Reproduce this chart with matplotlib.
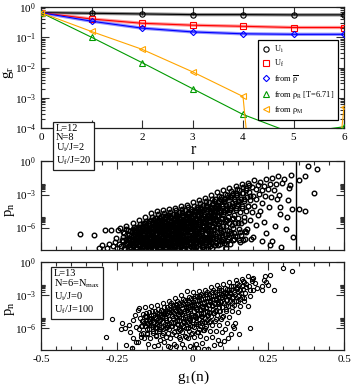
import matplotlib
matplotlib.use('Agg')
import matplotlib.pyplot as plt
from matplotlib.lines import Line2D
from matplotlib.ticker import FixedLocator, NullFormatter, MultipleLocator, NullLocator

plt.rcParams['font.family'] = ['Liberation Serif', 'DejaVu Serif']
plt.rcParams['mathtext.fontset'] = 'stix'
plt.rcParams['mathtext.default'] = 'regular'

# ---------------- top panel data ----------------
r_vals = [0, 1, 2, 3, 4, 5, 6]
r_ticklabels = ['0', '', '2', '3', '4', '5', '6']
g_Ui = [0.65, 0.62, 0.59, 0.56, 0.56, 0.55, 0.55]
g_Uf = [0.65, 0.40, 0.29, 0.25, 0.23, 0.21, 0.21]
g_rhobar = [0.65, 0.34, 0.20, 0.15, 0.13, 0.125, 0.125]
g_rhoR = [0.65, 0.10, 0.0145, 0.0020, 2.8e-4, 6.5e-5, 1.1e-4]
g_rhoM = [0.65, 0.155, 0.040, 0.0072, 1.1e-3, 1e-20, 5e-4]
legend_labels = ['U$_i$', 'U$_f$', r'from $\overline{\rho}$',
                 r'from $\rho_R$ [T=6.71]', r'from $\rho_M$']

# ---------------- middle panel data (g1, log10 p) ----------------
mid_g1 = [
    -0.370, -0.324, -0.310, -0.300, -0.290, -0.277, -0.282, -0.270, -0.262, -0.255, -0.245, -0.248, -0.243, -0.251,
    -0.238, -0.225, -0.232, -0.221, -0.229, -0.236, -0.224, -0.231,
    -0.218, -0.205, -0.212, -0.201, -0.209, -0.216, -0.204, -0.211, -0.219, -0.207, -0.214, -0.202,
    -0.198, -0.185, -0.192, -0.181, -0.189, -0.196, -0.184, -0.191, -0.199, -0.187, -0.194, -0.182, -0.195, -0.188, -0.183, -0.197,
    -0.178, -0.165, -0.172, -0.161, -0.169, -0.176, -0.164, -0.171, -0.179, -0.167, -0.174, -0.162, -0.175, -0.168, -0.163, -0.177, -0.166, -0.173, -0.170, -0.160,
    -0.158, -0.145, -0.152, -0.141, -0.149, -0.156, -0.144, -0.151, -0.159, -0.147, -0.154, -0.142, -0.155, -0.148, -0.143, -0.157, -0.146, -0.153, -0.150, -0.140, -0.152, -0.146,
    -0.138, -0.125, -0.132, -0.121, -0.129, -0.136, -0.124, -0.131, -0.139, -0.127, -0.134, -0.122, -0.135, -0.128, -0.123, -0.137, -0.126, -0.133, -0.130, -0.120, -0.132, -0.126, -0.137, -0.123,
    -0.118, -0.105, -0.112, -0.101, -0.109, -0.116, -0.104, -0.111, -0.119, -0.107, -0.114, -0.102, -0.115, -0.108, -0.103, -0.117, -0.106, -0.113, -0.110, -0.100, -0.112, -0.106, -0.117, -0.103, -0.109,
    -0.098, -0.085, -0.092, -0.081, -0.089, -0.096, -0.084, -0.091, -0.099, -0.087, -0.094, -0.082, -0.095, -0.088, -0.083, -0.097, -0.086, -0.093, -0.090, -0.080, -0.092, -0.086, -0.097, -0.083, -0.089,
    -0.078, -0.065, -0.072, -0.061, -0.069, -0.076, -0.064, -0.071, -0.079, -0.067, -0.074, -0.062, -0.075, -0.068, -0.063, -0.077, -0.066, -0.073, -0.070, -0.060, -0.072, -0.066, -0.077, -0.063, -0.069,
    -0.058, -0.045, -0.052, -0.041, -0.049, -0.056, -0.044, -0.051, -0.059, -0.047, -0.054, -0.042, -0.055, -0.048, -0.043, -0.057, -0.046, -0.053, -0.050, -0.040, -0.052, -0.046, -0.057, -0.043, -0.049,
    -0.038, -0.025, -0.032, -0.021, -0.029, -0.036, -0.024, -0.031, -0.039, -0.027, -0.034, -0.022, -0.035, -0.028, -0.023, -0.037, -0.026, -0.033, -0.030, -0.020, -0.032, -0.026, -0.037, -0.023, -0.029,
    -0.018, -0.005, -0.012, -0.001, -0.009, -0.016, -0.004, -0.011, -0.019, -0.007, -0.014, -0.002, -0.015, -0.008, -0.003, -0.017, -0.006, -0.013, -0.010, 0.000, -0.012, -0.006, -0.017, -0.003, -0.009,
    0.002, 0.015, 0.008, 0.019, 0.011, 0.004, 0.016, 0.009, 0.001, 0.013, 0.006, 0.018, 0.005, 0.012, 0.017, 0.003, 0.014, 0.007, 0.010, 0.020, 0.008, 0.014, 0.003, 0.017, 0.011,
    0.022, 0.035, 0.028, 0.039, 0.031, 0.024, 0.036, 0.029, 0.021, 0.033, 0.026, 0.038, 0.025, 0.032, 0.037, 0.023, 0.034, 0.027, 0.030, 0.040, 0.028, 0.034, 0.023, 0.037, 0.031,
    0.042, 0.055, 0.048, 0.059, 0.051, 0.044, 0.056, 0.049, 0.041, 0.053, 0.046, 0.058, 0.045, 0.052, 0.057, 0.043, 0.054, 0.047, 0.050, 0.060, 0.048, 0.054, 0.043, 0.057,
    0.062, 0.075, 0.068, 0.079, 0.071, 0.064, 0.076, 0.069, 0.061, 0.073, 0.066, 0.078, 0.065, 0.072, 0.077, 0.063, 0.074, 0.067, 0.070, 0.080, 0.068, 0.074,
    0.082, 0.095, 0.088, 0.099, 0.091, 0.084, 0.096, 0.089, 0.081, 0.093, 0.086, 0.098, 0.085, 0.092, 0.097, 0.083, 0.094, 0.087, 0.090, 0.100,
    0.102, 0.115, 0.108, 0.119, 0.111, 0.104, 0.116, 0.109, 0.101, 0.113, 0.106, 0.118, 0.105, 0.112, 0.117, 0.103, 0.114, 0.107,
    0.122, 0.135, 0.128, 0.139, 0.131, 0.124, 0.136, 0.129, 0.121, 0.133, 0.126, 0.138, 0.125, 0.132, 0.137, 0.123,
    0.142, 0.155, 0.148, 0.159, 0.151, 0.144, 0.156, 0.149, 0.141, 0.153, 0.146, 0.158, 0.145, 0.152,
    0.162, 0.175, 0.168, 0.179, 0.171, 0.164, 0.176, 0.169, 0.161, 0.173, 0.166, 0.178,
    0.182, 0.195, 0.188, 0.199, 0.191, 0.184, 0.196, 0.189, 0.181, 0.193,
    0.202, 0.215, 0.208, 0.219, 0.211, 0.204, 0.216, 0.209, 0.201,
    0.222, 0.235, 0.228, 0.239, 0.231, 0.224, 0.236, 0.229,
    0.242, 0.255, 0.248, 0.259, 0.251, 0.244, 0.256,
    0.262, 0.275, 0.268, 0.279, 0.271, 0.264,
    0.282, 0.295, 0.288, 0.289, 0.291, 0.284,
    0.302, 0.315, 0.308, 0.319, 0.311,
    0.326, 0.330, 0.322, 0.333,
    0.380, 0.410, 0.370, 0.350, 0.400, 0.370, 0.350,
    # second, interleaved set of points
    -0.214, -0.223, -0.211, -0.227, -0.218, -0.229,
    -0.194, -0.203, -0.191, -0.207, -0.198, -0.209, -0.196, -0.201, -0.192, -0.205,
    -0.174, -0.183, -0.171, -0.187, -0.178, -0.189, -0.176, -0.181, -0.172, -0.185, -0.180, -0.188, -0.175, -0.182,
    -0.154, -0.163, -0.151, -0.167, -0.158, -0.169, -0.156, -0.161, -0.152, -0.165, -0.160, -0.168, -0.155, -0.162, -0.153, -0.166,
    -0.134, -0.143, -0.131, -0.147, -0.138, -0.149, -0.136, -0.141, -0.132, -0.145, -0.140, -0.148, -0.135, -0.142, -0.133, -0.146, -0.137, -0.144,
    -0.114, -0.123, -0.111, -0.127, -0.118, -0.129, -0.116, -0.121, -0.112, -0.125, -0.120, -0.128, -0.115, -0.122, -0.113, -0.126, -0.117, -0.124, -0.119, -0.130,
    -0.094, -0.103, -0.091, -0.107, -0.098, -0.109, -0.096, -0.101, -0.092, -0.105, -0.100, -0.108, -0.095, -0.102, -0.093, -0.106, -0.097, -0.104, -0.099, -0.110,
    -0.074, -0.083, -0.071, -0.087, -0.078, -0.089, -0.076, -0.081, -0.072, -0.085, -0.080, -0.088, -0.075, -0.082, -0.073, -0.086, -0.077, -0.084, -0.079, -0.090,
    -0.054, -0.063, -0.051, -0.067, -0.058, -0.069, -0.056, -0.061, -0.052, -0.065, -0.060, -0.068, -0.055, -0.062, -0.053, -0.066, -0.057, -0.064, -0.059, -0.070,
    -0.034, -0.043, -0.031, -0.047, -0.038, -0.049, -0.036, -0.041, -0.032, -0.045, -0.040, -0.048, -0.035, -0.042, -0.033, -0.046, -0.037, -0.044, -0.039, -0.050,
    -0.014, -0.023, -0.011, -0.027, -0.018, -0.029, -0.016, -0.021, -0.012, -0.025, -0.020, -0.028, -0.015, -0.022, -0.013, -0.026, -0.017, -0.024, -0.019, -0.030,
    0.006, -0.003, 0.009, -0.007, 0.002, -0.009, 0.004, -0.001, 0.008, -0.005, 0.000, -0.008, 0.005, -0.002, 0.007, -0.006, 0.003, -0.004, 0.001, -0.010,
    0.026, 0.017, 0.029, 0.013, 0.022, 0.011, 0.024, 0.019, 0.028, 0.015, 0.020, 0.012, 0.025, 0.018, 0.027, 0.014, 0.023, 0.016, 0.021, 0.010,
    0.046, 0.037, 0.049, 0.033, 0.042, 0.031, 0.044, 0.039, 0.048, 0.035, 0.040, 0.032, 0.045, 0.038, 0.047, 0.034, 0.043, 0.036, 0.041, 0.030,
    0.066, 0.057, 0.069, 0.053, 0.062, 0.051, 0.064, 0.059, 0.068, 0.055, 0.060, 0.052, 0.065, 0.058, 0.067, 0.054, 0.063, 0.056,
    0.086, 0.077, 0.089, 0.073, 0.082, 0.071, 0.084, 0.079, 0.088, 0.075, 0.080, 0.072, 0.085, 0.078, 0.087, 0.074,
    0.106, 0.097, 0.109, 0.093, 0.102, 0.091, 0.104, 0.099, 0.108, 0.095, 0.100, 0.092, 0.105, 0.098,
    0.126, 0.117, 0.129, 0.113, 0.122, 0.111, 0.124, 0.119, 0.128, 0.115, 0.120, 0.112,
    0.146, 0.137, 0.149, 0.133, 0.142, 0.131, 0.144, 0.139, 0.148, 0.135,
    0.166, 0.157, 0.169, 0.153, 0.162, 0.151, 0.164, 0.159,
    0.186, 0.177, 0.189, 0.173, 0.182, 0.171,
]
mid_logp = [
    -6.60, -6.70, -7.90, -7.60, -6.20, -7.50, -7.85, -6.20, -7.70, -7.30, -6.20, -7.90, -7.50, -6.95,
    -6.05, -6.52, -7.13, -7.41, -6.84, -7.69, -7.92, -7.27,
    -5.82, -6.31, -6.93, -7.22, -6.58, -7.51, -7.83, -7.04, -6.12, -7.63, -7.36, -6.77,
    -5.61, -6.03, -6.44, -6.92, -7.28, -7.71, -7.93, -6.63, -7.12, -7.48, -6.21, -6.81, -7.39, -7.86, -7.01, -7.57,
    -5.32, -5.71, -6.13, -6.52, -6.88, -7.31, -7.68, -7.91, -5.94, -6.33, -6.72, -7.09, -7.47, -7.80, -6.02, -6.61, -7.19, -7.58, -6.79, -7.42,
    -5.03, -5.42, -5.81, -6.22, -6.63, -7.02, -7.38, -7.79, -5.58, -6.01, -6.43, -6.84, -7.21, -7.62, -7.93, -5.92, -6.52, -7.11, -7.49, -6.91, -7.71, -6.31,
    -4.71, -5.12, -5.52, -5.91, -6.32, -6.71, -7.08, -7.52, -7.91, -5.33, -5.72, -6.12, -6.51, -6.92, -7.29, -7.71, -5.81, -6.42, -7.01, -7.61, -6.03, -6.82, -7.42, -7.87,
    -4.52, -4.93, -5.31, -5.72, -6.11, -6.52, -6.91, -7.32, -7.71, -5.13, -5.52, -5.93, -6.31, -6.72, -7.11, -7.52, -7.92, -5.62, -6.21, -6.82, -7.41, -6.02, -6.61, -7.22, -7.81,
    -4.41, -4.82, -5.22, -5.61, -6.02, -6.41, -6.82, -7.21, -7.62, -5.02, -5.42, -5.82, -6.22, -6.61, -7.02, -7.42, -7.83, -5.52, -6.12, -6.71, -7.31, -7.91, -6.32, -6.91, -7.51,
    -4.32, -4.73, -5.13, -5.52, -5.93, -6.33, -6.72, -7.13, -7.53, -7.93, -4.93, -5.33, -5.73, -6.13, -6.53, -6.93, -7.33, -7.73, -5.43, -6.03, -6.63, -7.23, -7.83, -6.23, -6.83,
    -4.21, -4.62, -5.02, -5.41, -5.82, -6.22, -6.62, -7.02, -7.42, -7.82, -4.82, -5.22, -5.62, -6.02, -6.42, -6.82, -7.22, -7.62, -5.32, -5.92, -6.52, -7.12, -7.72, -6.12, -6.72,
    -4.02, -4.43, -4.83, -5.23, -5.63, -6.03, -6.43, -6.83, -7.23, -7.63, -4.63, -5.03, -5.43, -5.83, -6.23, -6.63, -7.03, -7.43, -7.87, -5.13, -5.73, -6.33, -6.93, -7.53, -7.95,
    -3.91, -4.32, -4.72, -5.12, -5.52, -5.92, -6.32, -6.72, -7.12, -7.52, -7.92, -4.52, -4.92, -5.32, -5.72, -6.12, -6.52, -6.92, -7.32, -7.72, -5.02, -5.62, -6.22, -6.82, -7.42,
    -3.72, -4.13, -4.53, -4.93, -5.33, -5.73, -6.13, -6.53, -6.93, -7.33, -7.73, -4.33, -4.73, -5.13, -5.53, -5.93, -6.33, -6.73, -7.13, -7.53, -7.93, -4.83, -5.43, -6.03, -6.63,
    -3.52, -3.93, -4.33, -4.73, -5.13, -5.53, -5.93, -6.33, -6.73, -7.13, -7.53, -7.93, -4.13, -4.53, -4.93, -5.33, -5.73, -6.13, -6.53, -6.93, -7.33, -7.73, -4.63, -5.83, -7.03,
    -3.31, -3.72, -4.12, -4.52, -4.92, -5.32, -5.72, -6.12, -6.52, -6.92, -7.32, -7.72, -3.92, -4.32, -4.72, -5.12, -5.52, -5.92, -6.32, -6.72, -7.12, -7.52, -7.92, -5.02,
    -3.02, -3.43, -3.83, -4.23, -4.63, -5.03, -5.43, -5.83, -6.23, -6.63, -7.03, -7.43, -7.83, -3.63, -4.03, -4.43, -4.83, -5.23, -5.63, -6.03, -6.83, -7.63,
    -2.81, -3.22, -3.62, -4.02, -4.42, -4.82, -5.22, -5.62, -6.02, -6.42, -6.82, -7.22, -7.62, -3.42, -3.82, -4.22, -4.62, -5.42, -6.22, -7.02,
    -2.62, -3.03, -3.43, -3.83, -4.23, -4.63, -5.03, -5.43, -5.83, -6.23, -6.63, -7.03, -7.43, -7.83, -3.23, -3.63, -4.43, -5.23,
    -2.41, -2.82, -3.22, -3.62, -4.02, -4.42, -4.82, -5.22, -5.62, -6.02, -6.52, -7.02, -7.52, -3.02, -3.42, -4.22,
    -2.22, -2.63, -3.03, -3.43, -3.83, -4.23, -4.63, -5.13, -5.63, -6.13, -6.73, -7.33, -2.83, -3.63,
    -2.02, -2.43, -2.83, -3.23, -3.63, -4.03, -4.53, -5.03, -5.63, -6.33, -7.13, -2.63,
    -1.92, -2.33, -2.73, -3.13, -3.53, -4.03, -4.63, -5.33, -6.13, -7.03,
    -1.72, -2.13, -2.53, -2.93, -3.43, -4.03, -4.83, -5.73, -6.83,
    -1.82, -2.23, -2.63, -3.13, -3.73, -4.53, -5.53, -7.23,
    -1.62, -2.03, -2.53, -3.23, -4.13, -6.53, -7.63,
    -1.52, -2.03, -2.63, -3.43, -5.83, -7.23,
    -1.36, -1.93, -4.13, -4.73, -7.73, -3.03,
    -1.62, -3.53, -6.13, -2.43, -5.03,
    -1.27, -4.33, -2.13, -6.83,
    -0.40, -0.70, -1.30, -1.70, -2.90, -4.50, -4.30,
    # second, interleaved set of points
    -6.22, -7.55, -6.71, -7.88, -7.05, -6.45,
    -5.92, -7.42, -6.35, -7.81, -6.78, -7.15, -6.12, -7.63, -6.56, -6.97,
    -5.68, -7.35, -6.22, -7.76, -6.58, -7.05, -5.91, -7.55, -6.41, -6.87, -7.22, -7.92, -6.05, -6.73,
    -5.38, -7.28, -5.95, -7.71, -6.35, -6.92, -5.62, -7.51, -6.15, -6.72, -7.12, -7.89, -5.82, -6.55, -7.38, -6.02,
    -5.05, -7.22, -5.68, -7.65, -6.12, -6.83, -5.35, -7.42, -5.91, -6.55, -7.05, -7.86, -5.52, -6.33, -7.31, -6.01, -6.68, -7.55,
    -4.81, -7.18, -5.42, -7.62, -5.95, -6.75, -5.15, -7.38, -5.71, -6.48, -6.98, -7.83, -5.28, -6.22, -7.25, -5.85, -6.62, -7.51, -6.05, -7.93,
    -4.65, -7.12, -5.25, -7.58, -5.82, -6.68, -4.98, -7.33, -5.58, -6.38, -6.92, -7.81, -5.12, -6.12, -7.21, -5.71, -6.55, -7.47, -5.95, -7.91,
    -4.55, -7.08, -5.18, -7.55, -5.75, -6.62, -4.88, -7.28, -5.48, -6.31, -6.85, -7.78, -5.05, -6.05, -7.17, -5.62, -6.48, -7.43, -5.88, -7.90,
    -4.45, -7.05, -5.11, -7.52, -5.68, -6.57, -4.78, -7.25, -5.41, -6.25, -6.80, -7.75, -4.97, -5.98, -7.13, -5.55, -6.41, -7.40, -5.81, -7.88,
    -4.30, -7.02, -5.02, -7.50, -5.60, -6.52, -4.66, -7.22, -5.32, -6.18, -6.75, -7.72, -4.86, -5.90, -7.10, -5.47, -6.35, -7.37, -5.75, -7.86,
    -4.15, -6.98, -4.92, -7.48, -5.52, -6.47, -4.55, -7.19, -5.24, -6.12, -6.70, -7.70, -4.75, -5.83, -7.06, -5.38, -6.28, -7.34, -5.68, -7.84,
    -4.00, -6.95, -4.82, -7.45, -5.45, -6.42, -4.42, -7.16, -5.15, -6.05, -6.65, -7.68, -4.63, -5.75, -7.02, -5.30, -6.21, -7.31, -5.60, -7.82,
    -3.80, -6.90, -4.68, -7.42, -5.35, -6.36, -4.25, -7.12, -5.05, -5.97, -6.60, -7.65, -4.48, -5.66, -6.98, -5.20, -6.13, -7.28, -5.50, -7.80,
    -3.60, -6.85, -4.52, -7.38, -5.25, -6.30, -4.08, -7.08, -4.95, -5.88, -6.55, -7.62, -4.32, -5.57, -6.93, -5.10, -6.05, -7.25, -5.40, -7.78,
    -3.38, -6.80, -4.35, -7.35, -5.12, -6.22, -3.88, -7.02, -4.82, -5.78, -6.50, -7.60, -4.12, -5.45, -6.88, -4.98, -5.95, -7.22,
    -3.12, -6.75, -4.15, -7.30, -4.95, -6.12, -3.65, -6.95, -4.62, -5.62, -6.42, -7.56, -3.92, -5.30, -7.15, -4.40,
    -2.92, -6.68, -3.98, -7.25, -4.78, -6.02, -3.45, -6.88, -4.45, -5.48, -6.35, -7.52, -3.72, -5.15,
    -2.72, -6.60, -3.78, -7.20, -4.58, -5.90, -3.25, -6.82, -4.25, -5.32, -6.28, -7.48,
    -2.52, -6.52, -3.58, -7.15, -4.40, -5.75, -3.05, -6.75, -4.05, -5.15,
    -2.32, -6.45, -3.38, -7.10, -4.20, -5.60, -2.85, -6.70,
    -2.12, -6.38, -3.18, -7.05, -4.00, -5.45,
]
mid_cut_g1 = 0.34

# ---------------- bottom panel data (g1, log10 p) ----------------
bot_g1 = [
    -0.285, -0.266, -0.232, -0.235, -0.224, -0.218, -0.199, -0.197, -0.180, -0.190, -0.210, -0.205, -0.195, -0.185, -0.188, -0.200,
    -0.178, -0.165, -0.172, -0.161, -0.169, -0.176, -0.164, -0.171, -0.179, -0.167,
    -0.158, -0.145, -0.152, -0.141, -0.149, -0.156, -0.144, -0.151, -0.159, -0.147, -0.154, -0.142,
    -0.138, -0.125, -0.132, -0.121, -0.129, -0.136, -0.124, -0.131, -0.139, -0.127, -0.134, -0.122,
    -0.118, -0.105, -0.112, -0.101, -0.109, -0.116, -0.104, -0.111, -0.119, -0.107, -0.114, -0.102, -0.115, -0.108,
    -0.098, -0.085, -0.092, -0.081, -0.089, -0.096, -0.084, -0.091, -0.099, -0.087, -0.094, -0.082, -0.095, -0.088, -0.083,
    -0.078, -0.065, -0.072, -0.061, -0.069, -0.076, -0.064, -0.071, -0.079, -0.067, -0.074, -0.062, -0.075, -0.068, -0.063, -0.077,
    -0.058, -0.045, -0.052, -0.041, -0.049, -0.056, -0.044, -0.051, -0.059, -0.047, -0.054, -0.042, -0.055, -0.048, -0.043, -0.057, -0.046, -0.053,
    -0.038, -0.025, -0.032, -0.021, -0.029, -0.036, -0.024, -0.031, -0.039, -0.027, -0.034, -0.022, -0.035, -0.028, -0.023, -0.037, -0.026, -0.033,
    -0.018, -0.005, -0.012, -0.001, -0.009, -0.016, -0.004, -0.011, -0.019, -0.007, -0.014, -0.002, -0.015, -0.008, -0.003, -0.017, -0.006, -0.013, -0.010, 0.000,
    0.002, 0.015, 0.008, 0.019, 0.011, 0.004, 0.016, 0.009, 0.001, 0.013, 0.006, 0.018, 0.005, 0.012, 0.017, 0.003, 0.014, 0.007, 0.010, 0.020,
    0.022, 0.035, 0.028, 0.039, 0.031, 0.024, 0.036, 0.029, 0.021, 0.033, 0.026, 0.038, 0.025, 0.032, 0.037, 0.023, 0.034, 0.027, 0.030, 0.040,
    0.042, 0.055, 0.048, 0.059, 0.051, 0.044, 0.056, 0.049, 0.041, 0.053, 0.046, 0.058, 0.045, 0.052, 0.057, 0.043, 0.054, 0.047,
    0.062, 0.075, 0.068, 0.079, 0.071, 0.064, 0.076, 0.069, 0.061, 0.073, 0.066, 0.078, 0.065, 0.072, 0.077, 0.063, 0.074,
    0.082, 0.095, 0.088, 0.099, 0.091, 0.084, 0.096, 0.089, 0.081, 0.093, 0.086, 0.098, 0.085, 0.092, 0.097, 0.083,
    0.102, 0.115, 0.108, 0.119, 0.111, 0.104, 0.116, 0.109, 0.101, 0.113, 0.106, 0.118, 0.105, 0.112,
    0.122, 0.135, 0.128, 0.139, 0.131, 0.124, 0.136, 0.129, 0.121, 0.133, 0.126, 0.138, 0.125,
    0.142, 0.155, 0.148, 0.159, 0.151, 0.144, 0.156, 0.149, 0.141, 0.153, 0.146, 0.158,
    0.162, 0.175, 0.168, 0.173, 0.171, 0.164, 0.176, 0.169,
    0.183, 0.195, 0.188, 0.190, 0.191, 0.184, 0.196, 0.190,
    0.200, 0.206, 0.212, 0.200,
    0.230, 0.230, 0.243, 0.240, 0.235,
    0.255, 0.250, 0.270, 0.300, 0.328,
    # second, interleaved set of points
    -0.154, -0.163, -0.151, -0.167, -0.158, -0.169,
    -0.134, -0.143, -0.131, -0.147, -0.138, -0.149, -0.136,
    -0.114, -0.123, -0.111, -0.127, -0.118, -0.129, -0.116, -0.121,
    -0.094, -0.103, -0.091, -0.107, -0.098, -0.109, -0.096, -0.101,
    -0.074, -0.083, -0.071, -0.087, -0.078, -0.089, -0.076, -0.081, -0.072,
    -0.054, -0.063, -0.051, -0.067, -0.058, -0.069, -0.056, -0.061, -0.052,
    -0.034, -0.043, -0.031, -0.047, -0.038, -0.049, -0.036, -0.041, -0.032, -0.045,
    -0.014, -0.023, -0.011, -0.027, -0.018, -0.029, -0.016, -0.021, -0.012, -0.025,
    0.006, -0.003, 0.009, -0.007, 0.002, -0.009, 0.004, -0.001, 0.008, -0.005,
    0.026, 0.017, 0.029, 0.013, 0.022, 0.011, 0.024, 0.019, 0.028, 0.015,
    0.046, 0.037, 0.049, 0.033, 0.042, 0.031, 0.044, 0.039, 0.048, 0.035,
    0.066, 0.057, 0.069, 0.053, 0.062, 0.051, 0.064, 0.059, 0.068,
    0.086, 0.077, 0.089, 0.073, 0.082, 0.071, 0.084, 0.079, 0.088,
    0.106, 0.097, 0.109, 0.093, 0.102, 0.091, 0.104, 0.099,
    0.126, 0.117, 0.129, 0.113, 0.122, 0.111, 0.124,
    0.146, 0.137, 0.149, 0.133, 0.142, 0.131,
    0.166, 0.157, 0.169, 0.153, 0.162,
]
bot_logp = [
    -6.80, -5.20, -5.50, -6.10, -6.00, -7.50, -7.80, -5.30, -4.40, -4.80, -5.70, -6.40, -6.90, -5.90, -7.30, -7.85,
    -4.22, -4.71, -5.13, -5.52, -5.83, -6.12, -6.43, -6.81, -7.25, -5.34,
    -4.12, -4.53, -4.91, -5.22, -5.51, -5.82, -6.13, -6.52, -6.93, -7.41, -5.03, -5.71,
    -4.02, -4.41, -4.83, -5.12, -5.43, -5.71, -6.03, -6.42, -6.91, -7.61, -5.28, -5.92,
    -3.91, -4.32, -4.71, -5.03, -5.33, -5.61, -5.92, -6.23, -6.62, -7.12, -7.52, -4.92, -5.48, -6.05,
    -3.72, -4.12, -4.51, -4.83, -5.12, -5.41, -5.72, -6.03, -6.41, -6.82, -7.31, -7.62, -4.62, -5.23, -5.88,
    -3.52, -3.93, -4.32, -4.63, -4.93, -5.22, -5.53, -5.82, -6.13, -6.52, -6.93, -7.42, -7.72, -4.43, -5.08, -5.68,
    -3.31, -3.72, -4.11, -4.42, -4.72, -5.01, -5.32, -5.61, -5.92, -6.23, -6.62, -7.03, -7.61, -4.27, -4.87, -5.47, -6.07, -3.92,
    -3.02, -3.43, -3.82, -4.13, -4.43, -4.72, -5.03, -5.32, -5.63, -5.92, -6.33, -6.82, -7.41, -7.83, -3.98, -4.58, -5.18, -5.78,
    -2.62, -3.23, -3.62, -3.93, -4.23, -4.52, -4.83, -5.12, -5.43, -5.72, -6.03, -6.42, -6.93, -7.62, -3.78, -4.38, -4.98, -5.58, -6.23, -7.83,
    -2.72, -3.12, -3.48, -3.81, -4.12, -4.42, -4.71, -5.02, -5.31, -5.62, -5.93, -6.32, -6.81, -7.42, -7.81, -3.63, -4.27, -4.87, -5.47, -6.12,
    -2.61, -3.02, -3.38, -3.71, -4.02, -4.31, -4.62, -4.91, -5.22, -5.52, -5.83, -6.22, -6.71, -7.32, -7.92, -3.53, -4.17, -4.77, -5.37, -6.02,
    -2.51, -2.92, -3.28, -3.61, -3.92, -4.21, -4.52, -4.81, -5.12, -5.43, -5.82, -6.31, -6.92, -7.93, -3.43, -4.07, -4.67, -5.27,
    -2.31, -2.72, -3.08, -3.41, -3.72, -4.01, -4.32, -4.62, -4.93, -5.32, -5.72, -6.23, -6.82, -7.51, -3.23, -3.87, -4.47,
    -2.12, -2.52, -2.88, -3.21, -3.52, -3.82, -4.13, -4.43, -4.82, -5.22, -5.71, -6.32, -7.12, -7.41, -3.03, -3.67,
    -2.02, -2.41, -2.78, -3.12, -3.43, -3.73, -4.03, -4.42, -4.91, -5.52, -6.13, -6.92, -7.21, -2.93,
    -1.82, -2.21, -2.58, -2.92, -3.23, -3.53, -3.92, -4.43, -5.02, -5.83, -6.53, -6.02, -2.73,
    -1.62, -2.11, -2.48, -2.82, -3.13, -3.52, -4.03, -4.52, -5.52, -6.51, -2.31, -3.33,
    -1.52, -2.01, -2.42, -2.82, -3.51, -3.21, -2.23, -1.83,
    -1.30, -1.73, -2.22, -2.52, -3.10, -4.00, -1.50, -6.00,
    -1.45, -1.90, -2.33, -2.50,
    -2.20, -2.50, -1.80, -1.30, -1.60,
    -1.20, -2.10, -2.50, -0.55, -0.80,
    # second, interleaved set of points
    -4.62, -5.35, -6.05, -5.82, -4.95, -6.55,
    -4.45, -5.18, -5.92, -5.62, -4.78, -6.41, -5.05,
    -4.25, -5.02, -5.75, -5.45, -4.62, -6.28, -4.88, -6.75,
    -4.12, -4.85, -5.62, -5.28, -4.45, -6.12, -4.72, -6.62,
    -3.95, -4.68, -5.45, -5.12, -4.28, -5.95, -4.55, -6.45, -3.72,
    -3.78, -4.52, -5.28, -4.95, -4.12, -5.78, -4.38, -6.32, -3.55,
    -3.62, -4.35, -5.12, -4.78, -3.95, -5.62, -4.22, -6.15, -3.38, -6.85,
    -3.42, -4.18, -4.95, -4.62, -3.78, -5.45, -4.05, -5.98, -3.22, -6.72,
    -3.25, -4.02, -4.78, -4.45, -3.62, -5.28, -3.88, -5.82, -3.05, -6.55,
    -3.05, -3.85, -4.62, -4.28, -3.45, -5.12, -3.72, -5.65, -2.88, -6.38,
    -2.88, -3.68, -4.45, -4.12, -3.28, -4.95, -3.55, -5.48, -2.72, -6.22,
    -2.72, -3.52, -4.28, -3.95, -3.12, -4.78, -3.38, -5.32, -2.55,
    -2.55, -3.35, -4.12, -3.78, -2.95, -4.62, -3.22, -5.15, -2.38,
    -2.38, -3.18, -3.95, -3.62, -2.78, -4.45, -3.05, -4.98,
    -2.18, -2.98, -3.75, -3.42, -2.58, -4.25, -2.85,
    -1.95, -2.75, -3.55, -3.22, -2.35, -4.05,
    -1.75, -2.55, -3.30, -2.98, -2.15,
]

box1_text = "L=12\nN=8\nU$_i$/J=2\nU$_f$/J=20"
box2_text = "L=13\nN=6=N$_{max}$\nU$_i$/J=0\nU$_f$/J=100"

# ---------------- figure ----------------
W, H = 353, 386
fig = plt.figure(figsize=(W / 100, H / 100), dpi=100)


def rect(l, t, r, b):
    return [l / W, 1 - b / H, (r - l) / W, (b - t) / H]


ax1 = fig.add_axes(rect(41, 7, 344, 128))
ax2 = fig.add_axes(rect(41, 161.5, 344, 249.5))
ax3 = fig.add_axes(rect(41, 262, 344, 350))

for ax in (ax1, ax2, ax3):
    for s in ax.spines.values():
        s.set_linewidth(0.9)
        s.set_color('#202020')
    ax.tick_params(which='both', direction='in', top=True, right=True,
                   width=0.8, labelsize=8, pad=3.5, color='#303030')
    ax.tick_params(which='major', length=5.5)
    ax.tick_params(which='minor', length=2.8)

# ----- top panel -----
series = [
    (g_Ui, 'black', 'o', '#8c8c8c'),
    (g_Uf, 'red', 's', '#ff9a9a'),
    (g_rhobar, 'blue', 'D', '#9090ff'),
    (g_rhoR, '#009a00', '^', None),
    (g_rhoM, '#ffa500', '<', None),
]
handles = []
for (vals, col, mk, under), lab in zip(series, legend_labels):
    if under is not None:
        ax1.plot(r_vals, vals, color=under, lw=2.4, zorder=1, solid_capstyle='butt')
    ms = 3.8 if mk != 'D' else 3.2
    ax1.plot(r_vals, vals, color=col, lw=0.8, marker=mk, ms=ms,
             mfc='none', mec=col, mew=0.8, zorder=3)
    handles.append(Line2D([], [], ls='none', marker=mk, ms=ms,
                          mfc='none', mec=col, mew=0.8))

ax1.set_yscale('log')
ax1.set_ylim(1e-4, 1)
ax1.set_xlim(0, 6)
ax1.xaxis.set_major_locator(FixedLocator(r_vals))
ax1.xaxis.set_minor_locator(NullLocator())
ax1.set_xticklabels(r_ticklabels)
leg = ax1.legend(handles, legend_labels, loc='lower right', bbox_to_anchor=(0.980, 0.066),
                 fontsize=6.0, frameon=True, fancybox=False, framealpha=1,
                 edgecolor='black', handlelength=0.9, handletextpad=0.5,
                 borderpad=0.5, labelspacing=0.38, borderaxespad=0)
leg.get_frame().set_linewidth(0.9)

# ----- scatter panels -----
major_p = [1e0, 1e-3, 1e-6]
minor_p = [k * 1e-3 for k in range(2, 10)] + [k * 1e-6 for k in range(2, 10)]

for ax, gx, lp, msz, mw in ((ax2, mid_g1, mid_logp, 3.3, 1.0), (ax3, bot_g1, bot_logp, 3.0, 0.8)):
    n = min(len(gx), len(lp))
    ax.plot(gx[:n], [10 ** v for v in lp[:n]], ls='none', marker='o', ms=msz,
            mfc='none', mec='black', mew=mw)
    ax.set_yscale('log')
    ax.set_ylim(1e-8, 1)
    ax.set_xlim(-0.5, 0.5)
    ax.yaxis.set_major_locator(FixedLocator(major_p))
    ax.yaxis.set_minor_locator(FixedLocator(minor_p))
    ax.yaxis.set_minor_formatter(NullFormatter())
    ax.xaxis.set_major_locator(FixedLocator([-0.5, -0.25, 0, 0.25, 0.5]))
    ax.xaxis.set_minor_locator(MultipleLocator(0.05))

ax2.axvline(mid_cut_g1, color='black', lw=1.0)
ax2.tick_params(labelbottom=False)
ax3.set_xticklabels(['-0.5', '-0.25', '0', '0.25', '0.5'])

# ----- labels -----
fig.text(8 / W, 1 - 73 / H, 'g$_r$', rotation=90, ha='center', va='center', fontsize=10.5)
fig.text(193 / W, 1 - 150 / H, 'r', ha='center', va='center', fontsize=11.5)
fig.text(10 / W, 1 - 210 / H, 'p$_n$', rotation=90, ha='center', va='center', fontsize=10.5)
fig.text(10 / W, 1 - 309 / H, 'p$_n$', rotation=90, ha='center', va='center', fontsize=10.5)
fig.text(193 / W, 1 - 377 / H, 'g$_1$(n)', ha='center', va='center', fontsize=11)

box_style = dict(boxstyle='square,pad=0.3', fc='white', ec='#202020', lw=0.9)
fig.text(56 / W, 1 - 124 / H, box1_text, ha='left', va='top', fontsize=7.5,
         linespacing=1.0, bbox=box_style, zorder=10)
fig.text(54 / W, 1 - 269 / H, box2_text, ha='left', va='top', fontsize=7.5,
         linespacing=1.0, bbox=box_style, zorder=10)

fig.savefig('out.png', dpi=100)
